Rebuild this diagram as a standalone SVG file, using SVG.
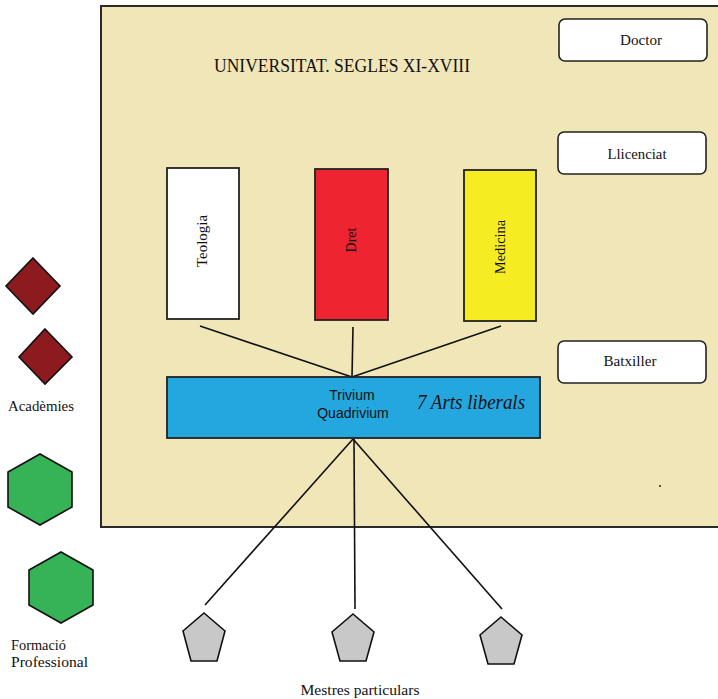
<svg xmlns="http://www.w3.org/2000/svg" width="718" height="699" viewBox="0 0 718 699">
<style>
.s{font-family:"Liberation Serif","Times New Roman",serif;fill:#111}
.a{font-family:"Liberation Sans",Arial,sans-serif;fill:#111}
.ln{stroke:#111;stroke-width:1.6;fill:none}
.bx{stroke:#222;stroke-width:1.8}
.rb{fill:#fff;stroke:#222;stroke-width:1.6}
</style>
<rect id="universitat" x="101" y="6" width="630" height="521" fill="#f1e6b7" stroke="#2a2a2a" stroke-width="2"/>
<text class="s" x="342" y="72" font-size="19" text-anchor="middle" textLength="256" lengthAdjust="spacingAndGlyphs">UNIVERSITAT. SEGLES XI-XVIII</text>
<circle cx="660" cy="486" r="1" fill="#222"/>
<g id="connectors">
<line class="ln" x1="200" y1="326" x2="352" y2="377"/>
<line class="ln" x1="353" y1="327" x2="352" y2="377"/>
<line class="ln" x1="501" y1="326" x2="352" y2="377"/>
<line class="ln" x1="353" y1="439" x2="205" y2="605"/>
<line class="ln" x1="354" y1="439" x2="355" y2="609"/>
<line class="ln" x1="353" y1="439" x2="502" y2="609"/>
</g>
<g id="doctor"><rect class="rb" x="559" y="19" width="148" height="42" rx="6"/><text class="s" x="641" y="45" font-size="15" text-anchor="middle" textLength="42" lengthAdjust="spacingAndGlyphs">Doctor</text></g>
<g id="llicenciat"><rect class="rb" x="558" y="132" width="148" height="42" rx="6"/><text class="s" x="637" y="159" font-size="15" text-anchor="middle" textLength="59" lengthAdjust="spacingAndGlyphs">Llicenciat</text></g>
<g id="batxiller"><rect class="rb" x="558" y="341" width="148" height="42" rx="6"/><text class="s" x="630" y="366" font-size="15" text-anchor="middle" textLength="53" lengthAdjust="spacingAndGlyphs">Batxiller</text></g>
<g id="teologia"><rect class="bx" x="167" y="168" width="72" height="151" fill="#ffffff"/><text class="s" transform="translate(207,241) rotate(-90)" font-size="14" text-anchor="middle" textLength="52" lengthAdjust="spacingAndGlyphs">Teologia</text></g>
<g id="dret"><rect class="bx" x="315" y="169" width="73" height="151" fill="#ee2430"/><text class="s" transform="translate(356,240) rotate(-90)" font-size="14" text-anchor="middle">Dret</text></g>
<g id="medicina"><rect class="bx" x="464" y="170" width="72" height="151" fill="#f5ec22"/><text class="s" transform="translate(505,247) rotate(-90)" font-size="14" text-anchor="middle" textLength="54" lengthAdjust="spacingAndGlyphs">Medicina</text></g>
<g id="arts"><rect x="167" y="377" width="373" height="61" fill="#24a6de" stroke="#222" stroke-width="1.8"/>
<text class="a" x="352" y="400" font-size="14" text-anchor="middle">Trivium</text>
<text class="a" x="353" y="418" font-size="14" text-anchor="middle">Quadrivium</text>
<text class="s" x="417" y="409" font-size="20" font-style="italic" textLength="108" lengthAdjust="spacingAndGlyphs">7 Arts liberals</text></g>
<g id="academies">
<polygon points="33,258 60,286 33,314 6,286" fill="#8c1a1f" stroke="#111" stroke-width="1.6"/>
<polygon points="45,329 72,357 45,384 19,357" fill="#8c1a1f" stroke="#111" stroke-width="1.6"/>
<text class="s" x="8" y="411" font-size="14" textLength="66" lengthAdjust="spacingAndGlyphs">Acadèmies</text></g>
<g id="formacio">
<polygon points="40,454 72,472 72,507 40,525 8,507 8,472" fill="#35b356" stroke="#111" stroke-width="1.6"/>
<polygon points="61,552 93,570 93,605 61,623 29,605 29,570" fill="#35b356" stroke="#111" stroke-width="1.6"/>
<text class="s" x="11" y="650" font-size="14" textLength="55" lengthAdjust="spacingAndGlyphs">Formació</text>
<text class="s" x="11" y="667" font-size="14" textLength="77" lengthAdjust="spacingAndGlyphs">Professional</text></g>
<g id="mestres">
<polygon points="204,613 225,631 217,661 191,661 183,631" fill="#c8c8c8" stroke="#111" stroke-width="1.6"/>
<polygon points="353,614 374,632 366,661 340,661 332,632" fill="#c8c8c8" stroke="#111" stroke-width="1.6"/>
<polygon points="501,617 522,635 514,664 488,664 480,635" fill="#c8c8c8" stroke="#111" stroke-width="1.6"/>
<text class="s" x="360" y="695" font-size="14" text-anchor="middle" textLength="119" lengthAdjust="spacingAndGlyphs">Mestres particulars</text></g>
</svg>
